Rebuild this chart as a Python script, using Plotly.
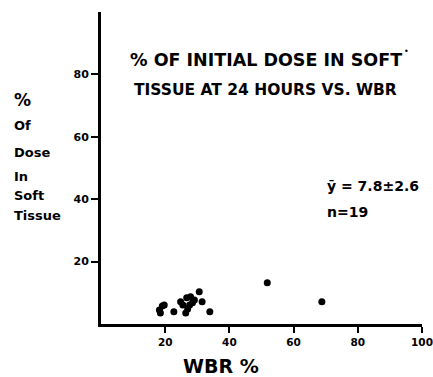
import plotly.graph_objects as go

wbr = [19.1, 18.5, 19.7, 18.2, 22.7, 24.8, 25.5, 26.7, 27.9, 30.6, 29.1, 27.6, 28.5, 26.4, 27.0, 31.5, 33.9, 51.8, 68.8]
soft = [5.8, 3.5, 6.1, 4.5, 3.9, 7.1, 6.1, 8.4, 8.7, 10.3, 7.7, 6.1, 6.8, 3.5, 4.8, 7.1, 3.9, 13.2, 7.1]
x_ticks = [20, 40, 60, 80, 100]
y_ticks = [20, 40, 60, 80]
title_lines = ["% OF INITIAL DOSE IN SOFT", "TISSUE AT 24 HOURS VS. WBR"]
ylabel_lines = ["%", "Of", "Dose", "In", "Soft", "Tissue"]
stats_lines = ["ȳ = 7.8±2.6", "n=19"]

FONT = "DejaVu Sans"
fig = go.Figure(go.Scatter(x=wbr, y=soft, mode="markers",
                           marker=dict(color="black", size=7), cliponaxis=False))

L, R, T, B = 101, 11, 12, 53
W, H = 433, 377
pw, ph = W - L - R, H - T - B

def px(x):
    return (x - L) / pw

def py(y):
    return (H - B - y) / ph

ann = []
for i, (t, s) in enumerate(zip(title_lines, [17.5, 15.5])):
    ann.append(dict(text=t, x=px(266 - i), y=py(60 + 30 * i), xref="paper", yref="paper",
                    showarrow=False, xanchor="center", yanchor="middle",
                    font=dict(family=FONT, size=s, color="black", weight="bold")))
ann.append(dict(text="•", x=px(406), y=py(51), xref="paper", yref="paper", showarrow=False,
                xanchor="center", yanchor="middle",
                font=dict(family=FONT, size=8, color="black")))
ypos = [100, 125, 152, 176, 195, 215]
for t, yy in zip(ylabel_lines, ypos):
    ann.append(dict(text=t, x=px(12), y=py(yy), xref="paper", yref="paper",
                    showarrow=False, xanchor="left", yanchor="middle",
                    font=dict(family=FONT, size=13 if t != "%" else 17, color="black", weight="bold")))
for i, t in enumerate(stats_lines):
    ann.append(dict(text=t, x=px(325), y=py(186 + 26 * i), xref="paper", yref="paper",
                    showarrow=False, xanchor="left", yanchor="middle",
                    font=dict(family=FONT, size=14, color="black", weight="bold")))
ann.append(dict(text="WBR %", x=px(221), y=py(366), xref="paper", yref="paper",
                showarrow=False, xanchor="center", yanchor="middle",
                font=dict(family=FONT, size=19, color="black", weight="bold")))

fig.update_layout(
    width=W, height=H, autosize=False, margin=dict(l=L, r=R, t=T, b=B, autoexpand=False),
    plot_bgcolor="white", paper_bgcolor="white", showlegend=False,
    annotations=ann,
    xaxis=dict(range=[0, 100], tickvals=x_ticks, showgrid=False, zeroline=False,
               automargin=False,
               showline=True, linecolor="black", linewidth=3, ticks="outside",
               ticklen=6, tickwidth=2, tickcolor="black", ticklabeloverflow="allow",
               tickfont=dict(family=FONT, size=10.5, color="black", weight="bold")),
    yaxis=dict(range=[0, 100], tickvals=y_ticks, showgrid=False, zeroline=False,
               automargin=False,
               showline=True, linecolor="black", linewidth=3, ticks="outside",
               ticklen=7, tickwidth=2, tickcolor="black",
               tickfont=dict(family=FONT, size=11, color="black", weight="bold")),
)
post = ("document.body.style.margin='0';document.body.style.overflow='hidden';"
        "var gd=document.getElementById('{plot_id}');"
        "Plotly.relayout(gd,{width:433,height:377});")
fig.write_html("out.html", config={"displayModeBar": False, "responsive": False},
               post_script=post)
